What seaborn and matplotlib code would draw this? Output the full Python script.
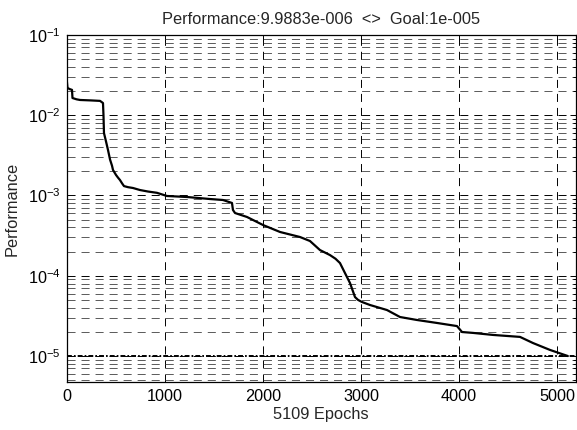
import matplotlib
matplotlib.use("Agg")
import matplotlib.pyplot as plt
import matplotlib.ticker as mticker
import numpy as np
import pandas as pd
import seaborn as sns

epochs = [0, 8, 30, 54, 59, 100, 136, 250, 340, 370, 375, 380, 401, 421, 442, 462, 472,
          503, 523, 543, 564, 584, 625, 676, 747, 830, 920, 1022, 1226, 1460, 1593,
          1685, 1695, 1716, 1838, 2001, 2175, 2378, 2480, 2582, 2684, 2740, 2786, 2837,
          2888, 2939, 2970, 3010, 3092, 3265, 3398, 3571, 3775, 3979, 4030, 4142, 4346,
          4621, 4754, 4927, 5109]
performance = [0.028, 0.0219, 0.0212, 0.0207, 0.0164, 0.0158, 0.0155, 0.0153, 0.0151,
               0.0142, 0.0100, 0.0060, 0.0047, 0.00369, 0.00280, 0.00235, 0.00208,
               0.00180, 0.00167, 0.00156, 0.00142, 0.00131, 0.00127, 0.00124, 0.00117,
               0.00112, 0.00108, 0.000986, 0.000958, 0.000904, 0.000879, 0.000807,
               0.000660, 0.000605, 0.000540, 0.000429, 0.000351, 0.000304, 0.000271,
               0.000209, 0.000181, 0.000163, 0.000144, 0.000108, 8.12e-5, 5.43e-5,
               5.0e-5, 4.71e-5, 4.32e-5, 3.74e-5, 3.06e-5, 2.81e-5, 2.58e-5, 2.36e-5,
               1.99e-5, 1.94e-5, 1.83e-5, 1.73e-5, 1.45e-5, 1.19e-5, 9.9883e-6]
goal = 1e-5
x_ticks = [0, 1000, 2000, 3000, 4000, 5000]
title_text = "Performance:9.9883e-006  <>  Goal:1e-005"
x_label = "5109 Epochs"
y_label = "Performance"

sns.set_style("white")
plt.rcParams['font.family'] = ['Liberation Sans', 'DejaVu Sans']
plt.rcParams['mathtext.fontset'] = 'custom'
plt.rcParams['mathtext.rm'] = 'Liberation Sans'
plt.rcParams['mathtext.it'] = 'Liberation Sans'
plt.rcParams['lines.scale_dashes'] = False

fig = plt.figure(figsize=(5.77, 4.30), dpi=100)
ax = fig.add_axes([66.7 / 577, 1 - 382 / 430, (575.5 - 66.7) / 577, (382 - 35) / 430])

df = pd.DataFrame({"epoch": epochs, "perf": performance})
ax.set_yscale("log")
sns.lineplot(data=df, x="epoch", y="perf", ax=ax, color="black", linewidth=1.6,
             estimator=None, sort=False)
ax.axhline(goal, color="black", linewidth=1.4, linestyle=(0, (3.5, 1.5, 1.2, 1.5)), zorder=3)

ax.set_xlim(0, 5187)
ax.set_ylim(10 ** -5.324, 1e-1)
ax.set_xticks(x_ticks)
ax.yaxis.set_major_locator(mticker.LogLocator(base=10, numticks=10))
ax.yaxis.set_minor_locator(mticker.LogLocator(base=10, subs=np.arange(2, 10), numticks=20))
ax.yaxis.set_minor_formatter(mticker.NullFormatter())

ax.grid(True, which="major", axis="both", color="black", linewidth=0.7,
        linestyle=(0, (5.8, 4.3)))
ax.grid(True, which="minor", axis="y", color="0.35", linewidth=0.7,
        linestyle=(0, (5.8, 4.3)))
ax.set_axisbelow(True)

ax.tick_params(which="both", direction="in", top=True, right=True, labelsize=11.7,
               colors="black", width=0.7)
ax.tick_params(which="major", length=4)
ax.tick_params(axis="x", which="major", pad=5)
ax.tick_params(axis="y", which="major", pad=4)
ax.tick_params(which="minor", length=2.5)
for s in ax.spines.values():
    s.set_color("black")
    s.set_linewidth(0.9)

ax.set_title(title_text, fontsize=11.8, pad=8)
ax.set_xlabel(x_label, fontsize=11.8, labelpad=2)
ax.set_ylabel(y_label, fontsize=11.8, labelpad=6)

fig.savefig("out.png", dpi=100, facecolor="white")
